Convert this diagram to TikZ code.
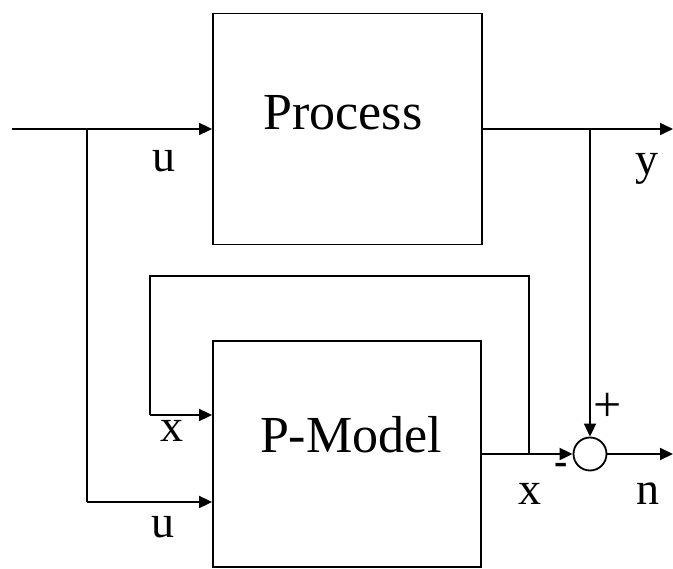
\documentclass[tikz,border=0pt]{standalone}
\usepackage{fontspec}
\setmainfont{Liberation Serif}
\usetikzlibrary{arrows.meta}
\begin{document}
\begin{tikzpicture}[x=1pt,y=-1pt,
  line width=1.8pt,
  blk/.style={draw, rectangle, inner sep=0pt},
  bigtxt/.style={inner sep=0pt, font=\fontsize{52}{60}\selectfont},
  lbl/.style={inner sep=0pt, anchor=base, font=\fontsize{46}{54}\selectfont},
  arr/.style={-{Triangle[length=13pt,width=12pt]}},
  sumc/.style={draw, circle, minimum size=33pt, inner sep=0pt}]
\useasboundingbox (0,0) rectangle (673,569);
% blocks
\node[blk, minimum width=269pt, minimum height=231pt] (proc) at (347.5,129) {};
\node[bigtxt] (proctext) at (343,113) {Process};
\node[blk, minimum width=268pt, minimum height=226pt] (model) at (347,454) {};
\node[bigtxt] (modeltext) at (351,435) {P-Model};
\node[sumc] (sum) at (590,454) {};
% coordinates
\coordinate (in) at (12,129);
\coordinate (b1) at (87,129);
\coordinate (b2) at (590,129);
\coordinate (yout) at (673,129);
\coordinate (b3) at (529,454);
\coordinate (nout) at (673,454);
\coordinate (fbtop) at (529,276);
\coordinate (fbleft) at (150,276);
\coordinate (xin) at (150,415);
\coordinate (ulow) at (87,502);
% connectors
\draw[arr] (in) -- (proc.west);
\draw (b1) -- (ulow);
\draw[arr] (ulow) -- (ulow -| model.west);
\draw[arr] (proc.east) -- (yout);
\draw[arr] (b2) -- (sum.north);
\draw[arr] (model.east |- sum) -- (sum.west);
\draw (b3) -- (fbtop) -- (fbleft) -- (xin);
\draw[arr] (xin) -- (xin -| model.west);
\draw[arr] (sum.east) -- (nout);
% labels
\node[lbl] (lu1) at (164,172) {u};
\node[lbl] (ly) at (647,175) {y};
\node[lbl] (lx1) at (172,442) {x};
\node[lbl] (lu2) at (163,538) {u};
\node[lbl] (lx2) at (530,505) {x};
\node[lbl] (ln) at (648,505) {n};
\node[inner sep=0pt, font=\fontsize{50}{56}\selectfont] (plus) at (608,407) {+};
\node[inner sep=0pt, font=\fontsize{40}{46}\selectfont\bfseries] (minus) at (561,469) {-};
\end{tikzpicture}
\end{document}
